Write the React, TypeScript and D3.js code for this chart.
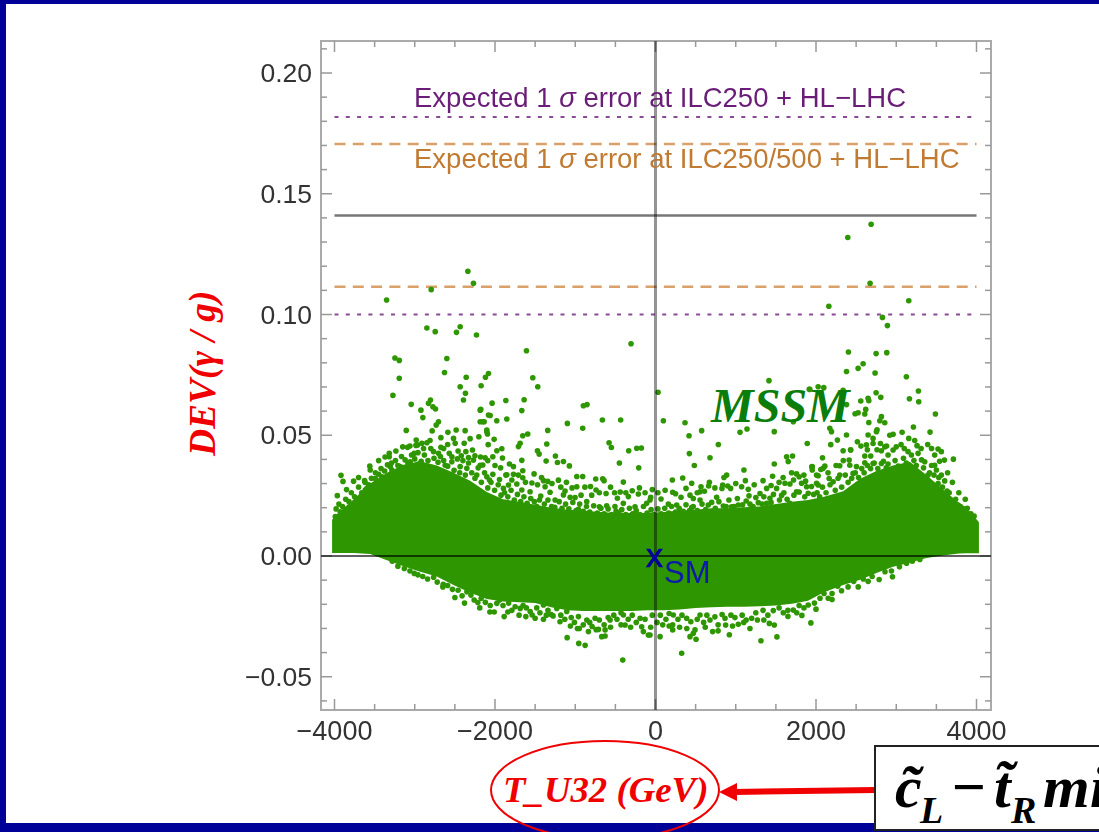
import React from "react";
import * as d3 from "d3";

const W = 1099, H = 832;

// dense core of the cloud: T value, upper and lower limit of the solid band
const coreT = [-4030,-3965,-3760,-3555,-3346,-3140,-2932,-2725,-2517,-2310,-2102,-1900,-1700,-1500,-1300,-1100,-900,-700,-500,-300,-100,100,300,500,700,900,1100,1300,1500,1700,1900,2100,2338,2550,2753,2960,3168,3376,3583,3780,3873,3956,4030];
const coreUpper = [.0150,.0175,.0235,.0300,.0345,.0378,.0392,.0375,.0345,.0312,.0265,.0235,.0225,.0212,.0200,.0192,.0188,.0182,.0178,.0178,.0178,.0182,.0188,.0192,.0198,.0198,.0202,.0205,.0215,.0225,.0232,.0245,.0268,.0320,.0352,.0375,.0390,.0335,.0275,.0220,.0200,.0170,.0140];
const coreLower = [.0012,.0012,.0012,.0008,-.0018,-.0042,-.0065,-.0085,-.0120,-.0152,-.0178,-.0188,-.0192,-.0195,-.0212,-.0225,-.0228,-.0228,-.0228,-.0228,-.0225,-.0225,-.0222,-.0215,-.0212,-.0210,-.0210,-.0208,-.0205,-.0198,-.0185,-.0150,-.0120,-.0098,-.0070,-.0045,-.0028,-.0008,.0002,.0010,.0011,.0011,.0011];

const pointsLeftHigh = [[-3351,.106],[-2795,.1103],[-2338,.1179],[-2268,.1129],[-2849,.0944],[-2745,.0929],[-2480,.0926],[-2434,.0949],[-2231,.0915],[-3247,.082],[-3193,.081],[-2600,.0818],[-2629,.076],[-3193,.0736],[-2359,.074],[-2119,.074],[-2081,.0756],[-2434,.0701],[-2173,.0705],[-2368,.0674],[-3272,.0665],[-2804,.0646],[-2393,.0646],[-3044,.0628],[-2829,.0632],[-2774,.0618],[-2741,.0609],[-2923,.0604],[-2899,.0573],[-2704,.0556],[-2733,.0542],[-3106,.052],[-2783,.0518],[-2587,.0512],[-2484,.0522],[-2372,.0519],[-2517,.0487],[-2982,.048],[-2849,.0469],[-2911,.0467],[-2674,.049],[-2674,.045],[-3090,.045],[-2965,.046],[-2496,.0467],[-2310,.0486],[-2384,.0467],[-2201,.0494],[-2102,.0515],[-2185,.0556],[-2135,.0556],[-2185,.0604],[-2081,.0584]];
const pointsLeftFringe = [[-3007,.0425],[-2766,.0432],[-2704,.0425],[-3318,.0425],[-3318,.0411],[-2537,.0411],[-2363,.0432],[-2281,.0439],[-2268,.0397],[-3305,.037],[-3555,.0356],[-3919,.0334],[-3894,.0309],[-3762,.031],[-3625,.0312],[-3965,.025],[-3409,.0328],[-3720,.0225],[-3617,.0273],[-3492,.0321],[-3181,.037],[-3057,.039],[-2953,.0381],[-2849,.0363],[-2621,.0376],[-2538,.039],[-2434,.037],[-2351,.0363],[-2185,.0376],[-2227,.0335],[-2102,.0328],[-2434,.0315],[-3928,.0183],[-3990,.0163],[-3596,.028],[-3285,.0356],[-3140,.0363]];
const pointsMidLeft = [[-305,.0879],[-1608,.085],[-1529,.0738],[-1467,.0701],[-2036,.0633],[-1865,.0644],[-1637,.0647],[-1666,.0602],[-2177,.0607],[-2060,.0582],[-1978,.056],[-1853,.0567],[-2152,.0556],[-899,.0622],[-853,.0627],[-662,.0563],[-434,.0563],[-1098,.0549],[-907,.0529],[-1343,.052],[-2102,.0522],[-2094,.0505],[-1592,.0505],[-1654,.0498],[-2011,.0483],[-1355,.0464],[-2085,.0461],[-1687,.0467],[-1708,.0453],[-1915,.0444],[-1977,.0436],[-579,.0469],[-550,.0449],[-334,.0436],[-234,.0446],[-176,.0447],[-1471,.0436],[-1450,.0422],[-1247,.0414],[-2123,.0407],[-2027,.0411],[-1907,.0406],[-1666,.0396],[-1363,.0393],[-1222,.0387],[-1147,.0391],[-1073,.0373],[-450,.0385],[-209,.0365],[-2152,.0377],[-1820,.0381],[-1770,.037],[-1654,.0353],[-2027,.0338],[-1853,.0336],[-1770,.0338],[-1654,.0324],[-1513,.034],[-981,.0329],[-907,.0329],[-745,.0319],[-658,.032],[-641,.0312],[-1210,.0314],[-1396,.0312],[-1343,.0309],[-401,.0306],[-2069,.0315],[-1944,.0317],[-981,.0287],[-1832,.0294],[-1728,.0298],[-1376,.0287],[-1127,.0269],[-741,.0273],[-616,.0259],[-928,.0252],[-1314,.0264],[-1666,.0273],[-1563,.0266],[-1895,.028],[-214,.0257],[-338,.0246],[-475,.0239],[-1064,.0243],[-1002,.0242],[-1147,.0253],[-795,.0252],[-857,.0225],[-1446,.0232],[-1251,.0232],[-68,.0232],[-110,.0218],[-401,.0218],[-255,.0204],[-608,.0208],[-699,.0204],[-492,.0186],[-961,.0193],[-1210,.0184],[-1396,.0177],[-774,.0163]];
const pointsMidRight = [[32,.0678],[98,.056],[368,.0552],[418,.0498],[575,.0519],[1053,.0512],[1140,.0526],[1480,.0515],[783,.0462],[1891,.0466],[422,.0424],[679,.0407],[484,.0375],[1634,.0411],[1708,.0414],[1654,.0391],[1480,.0381],[1102,.0356],[1953,.037],[1953,.0356],[887,.0335],[853,.0325],[1459,.033],[339,.0323],[210,.0315],[451,.0301],[671,.0305],[662,.029],[837,.0294],[828,.028],[936,.028],[1073,.0287],[567,.0287],[1156,.0276],[1696,.0345],[1758,.034],[1849,.0335],[2007,.0335],[1613,.0301],[1675,.0298],[1820,.0301],[1883,.0287],[2007,.0301],[214,.0264],[555,.0266],[1385,.028],[1509,.028],[1302,.0259],[1571,.0251],[430,.0252],[471,.0238],[555,.0232],[318,.0243],[69,.0236],[762,.0243],[1165,.0249],[1177,.0215],[-60,.0243],[1758,.0266],[1903,.026],[1426,.0239],[1385,.0218],[1281,.0221],[845,.0207],[658,.0211],[1032,.0211],[949,.0204],[264,.0211],[160,.0215],[451,.0201],[1675,.0218],[1924,.0211],[1414,.0726],[1916,.069],[1717,.0556]];
const pointsRight = [[2687,.1374],[2396,.1319],[2674,.1129],[3156,.1057],[2160,.1034],[2828,.0988],[2890,.0954],[2404,.0845],[2749,.0838],[2882,.0842],[2587,.0796],[2525,.0777],[2380,.0764],[2736,.0758],[3126,.0742],[2027,.0701],[2097,.0697],[1923,.069],[2338,.0686],[3276,.0683],[2749,.0676],[2807,.0657],[3164,.0651],[3280,.0639],[2649,.0653],[2658,.0643],[2558,.0642],[2380,.0627],[2620,.0607],[2608,.0588],[2487,.0589],[2525,.0593],[3488,.0588],[2815,.0577],[2857,.0552],[2795,.056],[2658,.0553],[2172,.0529],[2193,.0515],[2761,.0523],[2753,.0515],[3214,.0534],[3421,.0513],[3073,.0512],[2919,.05],[2961,.0504],[2380,.0501],[2649,.0501],[2711,.0487],[3156,.0487],[2267,.048],[2516,.0473],[2184,.0461],[2628,.046],[2711,.0466],[2803,.0466],[2857,.0452],[3060,.0461],[3392,.0462],[3259,.0457],[2338,.0436],[2433,.0439],[2815,.0436],[2961,.0439],[3521,.0443],[3562,.0432],[3479,.0418],[2898,.0418],[2608,.0414],[2682,.0414],[3147,.0432],[3272,.0425],[3189,.0418],[2081,.0407],[2413,.0397],[3600,.0397],[3712,.0401],[3355,.039],[2608,.0386],[2711,.0383],[2815,.0383],[2898,.0381],[3479,.0376],[2110,.0372],[1948,.0369],[2296,.0374],[2504,.037],[2421,.0376],[3500,.0356],[2089,.0363],[2462,.0342],[2296,.0335],[2027,.0332],[2164,.0321],[3562,.0335],[3396,.0335],[3376,.0317],[3604,.0311],[3521,.03],[2214,.0307],[2027,.0294],[1944,.0288],[2014,.0262],[2919,.0335],[2940,.0314],[3633,.0269],[3770,.0211]];
const pointsBelowLeft = [[-408,-.0431],[-1101,-.0338],[-956,-.0362],[-877,-.037],[-628,-.0331],[-670,-.0334],[-973,-.03],[-836,-.0313],[-711,-.0304],[-628,-.0306],[-1396,-.0262],[-1616,-.0251],[-1537,-.0244],[-1276,-.0248],[-1886,-.0251],[-2064,-.0232],[-2214,-.0193],[-2172,-.0175],[-2645,-.0117],[-2765,-.0088],[-3006,-.0072],[-2350,-.0148],[-1977,-.0196],[-1944,-.0182],[-1749,-.021],[-1686,-.0217],[-1562,-.023],[-1396,-.0203],[-1230,-.0217],[-1106,-.023],[-960,-.0251],[-856,-.0265],[-753,-.0258],[-566,-.0265],[-379,-.0286],[-172,-.0293],[-89,-.0327],[-151,-.0313],[-400,-.0244],[-192,-.0258]];
const pointsBelowRight = [[326,-.0403],[1314,-.0351],[1513,-.0335],[920,-.0326],[57,-.0334],[-68,-.0327],[430,-.0334],[492,-.0306],[505,-.0345],[471,-.032],[214,-.0306],[214,-.0285],[90,-.0285],[712,-.0313],[874,-.0286],[1032,-.0283],[1177,-.03],[1418,-.0279],[1480,-.0286],[1936,-.0277],[1824,-.0246],[1198,-.0258],[2526,-.0128],[2650,-.0105],[2953,-.0086],[2787,-.0097],[3128,-.003],[3294,-.0014],[2152,-.0175],[1903,-.0203],[2318,-.0144],[1468,-.0226],[1592,-.0235],[1717,-.0224],[555,-.0244],[679,-.0265],[866,-.0258],[388,-.0258],[222,-.0244]];
const fringeUpperLeft = [[-3980,.0195],[-3945,.0215],[-3900,.0205],[-3860,.0235],[-3820,.0225],[-3790,.0262],[-3750,.0245],[-3700,.0285],[-3660,.0262],[-3620,.0305],[-3575,.0295],[-3540,.0322],[-3490,.0345],[-3450,.0338],[-3420,.0362],[-3375,.0352],[-3340,.0378],[-3290,.0385],[-3240,.0395],[-3210,.0375],[-3165,.0412],[-3120,.0398],[-3085,.0385],[-3040,.0418],[-3000,.0402],[-2960,.0428],[-2920,.0392],[-2880,.0418],[-2835,.0395],[-2800,.0445],[-2760,.0405],[-2710,.0388],[-2680,.0412],[-2640,.0395],[-2590,.0372],[-2570,.0425],[-2510,.0355],[-2470,.0402],[-2440,.0345],[-2400,.0395],[-2370,.0335],[-2330,.0385],[-2290,.0345],[-2250,.0322],[-2210,.0365],[-2170,.0305],[-2130,.0345],[-2090,.0282],[-2050,.0305],[-2005,.0272],[-1960,.0295],[-1925,.0252],[-1880,.0262],[-1840,.0245],[-1800,.0272],[-1760,.0232],[-1720,.0255],[-1680,.0225],[-1640,.0245],[-1600,.0218],[-1555,.0238],[-1510,.0225],[-1480,.0205],[-1430,.0248],[-1385,.0215],[-1340,.0232],[-1295,.0205],[-1255,.0202],[-1200,.0225],[-1165,.0198],[-1120,.0215],[-1080,.0195],[-1030,.0222],[-990,.0188],[-945,.0215],[-900,.0185],[-860,.0205],[-820,.0182],[-770,.0208],[-725,.0178],[-680,.0198],[-640,.0175],[-590,.0195],[-545,.0172],[-505,.0205],[-460,.0178],[-420,.0192],[-370,.0172],[-325,.0198],[-285,.0175],[-240,.0188],[-195,.0172],[-150,.0205],[-105,.0178],[-55,.0192],[-20,.0172]];
const fringeUpperRight = [[30,.0195],[70,.0175],[115,.0198],[165,.0178],[200,.0205],[250,.0182],[295,.0198],[345,.0185],[380,.0212],[425,.0188],[470,.0205],[520,.0188],[580,.0215],[625,.0192],[700,.0222],[745,.0198],[790,.0225],[880,.0205],[915,.0232],[980,.0205],[1020,.0238],[1085,.0212],[1130,.0228],[1215,.0205],[1250,.0242],[1330,.0215],[1350,.0245],[1440,.0222],[1470,.0255],[1545,.0232],[1600,.0262],[1640,.0235],[1725,.0252],[1790,.0265],[1860,.0245],[1970,.0255],[2045,.0245],[2080,.0285],[2125,.0262],[2175,.0295],[2240,.0272],[2275,.0322],[2320,.0285],[2365,.0335],[2400,.0305],[2445,.0322],[2490,.0345],[2530,.0325],[2570,.0362],[2600,.0345],[2640,.0375],[2680,.0362],[2725,.0385],[2770,.0362],[2840,.0392],[2875,.0365],[2985,.0395],[3025,.0372],[3090,.0405],[3125,.0385],[3220,.0395],[3250,.0375],[3315,.0398],[3340,.0365],[3415,.0345],[3440,.0375],[3470,.0335],[3530,.0325],[3575,.0285],[3620,.0255],[3660,.0262],[3700,.0225],[3740,.0235],[3800,.0205],[3840,.0195],[3885,.0198],[3930,.0175],[3970,.0165]];
const fringeLower = [[-3280,-.0022],[-3210,-.0042],[-3130,-.0052],[-3060,-.0062],[-2960,-.0078],[-2900,-.0085],[-2840,-.0095],[-2720,-.0108],[-2650,-.0128],[-2590,-.0122],[-2530,-.0138],[-2460,-.0142],[-2410,-.0165],[-2300,-.0162],[-2260,-.0182],[-2120,-.0192],[-2060,-.0205],[-1900,-.0205],[-1830,-.0195],[-1790,-.0225],[-1650,-.0205],[-1610,-.0215],[-1480,-.0215],[-1440,-.0235],[-1340,-.0225],[-1300,-.0242],[-1180,-.0245],[-1130,-.0262],[-1050,-.0255],[-1010,-.0275],[-900,-.0285],[-820,-.0275],[-790,-.0292],[-700,-.0265],[-640,-.0285],[-590,-.0255],[-520,-.0245],[-480,-.0262],[-430,-.0235],[-340,-.0262],[-290,-.0245],[-240,-.0275],[-130,-.0262],[-40,-.0245],[20,-.0275],[60,-.0245],[130,-.0262],[170,-.0238],[280,-.0262],[330,-.0245],[440,-.0272],[520,-.0262],[600,-.0275],[640,-.0245],[740,-.0252],[780,-.0285],[830,-.0242],[940,-.0245],[990,-.0255],[1080,-.0245],[1130,-.0265],[1250,-.0235],[1340,-.0225],[1400,-.0245],[1540,-.0215],[1650,-.0225],[1790,-.0205],[1850,-.0215],[1980,-.0195],[2050,-.0175],[2100,-.0155],[2200,-.0155],[2270,-.0125],[2400,-.0128],[2470,-.0105],[2590,-.0095],[2700,-.0085],[2860,-.0065],[2940,-.0062],[3040,-.0045],[3200,-.0022]];
const fringeOuterUpper = [[-3850,.0275],[-3700,.0325],[-3560,.0372],[-3450,.0395],[-3370,.041],[-3235,.0435],[-3150,.0452],[-3060,.0455],[-2985,.0458],[-2890,.0445],[-2810,.0478],[-2640,.0445],[-2590,.0462],[-2460,.0435],[-2420,.0415],[-2330,.0408],[-2250,.0415],[-2180,.041],[-2090,.0395],[-2000,.0375],[-1930,.0365],[-1865,.0335],[-1790,.0315],[-1710,.0335],[-1620,.0305],[-1540,.0302],[-1470,.0295],[-1420,.0325],[-1290,.03],[-1180,.0285],[-1110,.0305],[-1040,.0282],[-880,.0285],[-810,.0288],[-700,.0262],[-560,.0285],[-510,.0262],[-440,.0265],[-370,.0262],[-290,.027],[-200,.0282],[-130,.0262],[-40,.0275],[30,.0262],[120,.0272],[250,.0258],[380,.028],[520,.0262],[610,.0268],[740,.0282],[900,.029],[1000,.03],[1120,.0312],[1230,.0295],[1340,.0312],[1440,.0292],[1540,.0305],[1590,.0325],[1720,.0315],[1790,.0328],[1870,.031],[2060,.0358],[2150,.0345],[2250,.0375],[2340,.0395],[2430,.044],[2560,.0455],[2640,.044],[2760,.044],[2880,.0455],[3000,.0452],[3100,.0445],[3230,.0478],[3310,.0445],[3440,.0445],[3540,.0392],[3640,.0345],[3700,.0305],[3780,.0262],[3860,.0235]];
const fringeOuterLower = [[-2500,-.0172],[-2380,-.0195],[-2190,-.0215],[-2010,-.0232],[-1840,-.0232],[-1700,-.0245],[-1500,-.0258],[-1360,-.0245],[-1190,-.0272],[-1060,-.029],[-950,-.03],[-740,-.0305],[-560,-.0295],[-430,-.0285],[-310,-.0295],[-60,-.0295],[170,-.029],[300,-.0295],[390,-.03],[620,-.0295],[780,-.031],[960,-.029],[1100,-.0275],[1270,-.0265],[1350,-.0265],[1650,-.025],[1760,-.0235],[2000,-.022],[2200,-.018]];
const cloud = [...pointsLeftHigh, ...pointsLeftFringe, ...pointsMidLeft, ...pointsMidRight, ...pointsRight, ...pointsBelowLeft, ...pointsBelowRight, ...fringeUpperLeft, ...fringeUpperRight, ...fringeLower, ...fringeOuterUpper, ...fringeOuterLower];

const xTickLabels = [-4000, -2000, 0, 2000, 4000];
const yTickLabels = [-0.05, 0, 0.05, 0.1, 0.15, 0.2];
const refLines = [
  { v: 0.1818, color: "#8a4a96", dash: "4 7.3", w: 2 },
  { v: 0.1706, color: "#d9a06a", dash: "11 7.3", w: 2.4 },
  { v: 0.141, color: "#777777", dash: "", w: 2.5 },
  { v: 0.1115, color: "#d9a06a", dash: "11 7.3", w: 2.4 },
  { v: 0.1, color: "#8a4a96", dash: "4 7.3", w: 2 },
];

const x = d3.scaleLinear().domain([-4000, 4000]).range([334.5, 976.5]);
const y = d3.scaleLinear().domain([0, 0.2]).range([556, 73]);
const L = 321, R = 991, T = 41, B = 710;
const fmtMinus = (s: string) => s.replace("-", "\u2212");

export default function App() {
  const area = d3.area<number>()
    .x((_, i) => x(coreT[i]))
    .y0((_, i) => y(coreLower[i]))
    .y1((_, i) => y(coreUpper[i]));
  const xMinor = d3.range(-4000, 4001, 500);
  const yMinor = d3.range(-6, 22, 1).map((d) => d / 100);
  const sans = "Liberation Sans, Arial, sans-serif";
  const serif = "Liberation Serif, Times New Roman, serif";
  return (
    <svg width={W} height={H} style={{ position: "absolute", left: 0, top: 0, background: "#fff" }}>
      <defs>
        <filter id="soft" x="0" y="0" width={W} height={H} filterUnits="userSpaceOnUse">
          <feGaussianBlur stdDeviation="0.6" />
        </filter>
      </defs>
      <g filter="url(#soft)">
        <rect x={L} y={T} width={R - L} height={B - T} fill="#fff" stroke="#aaaaaa" strokeWidth={2} />
        {xMinor.map((t) => {
          const major = t % 2000 === 0;
          const l = major ? 11 : 6;
          return (
            <g key={t} stroke="#999999" strokeWidth={1.5}>
              <line x1={x(t)} x2={x(t)} y1={B} y2={B - l} />
              <line x1={x(t)} x2={x(t)} y1={T} y2={T + l} />
            </g>
          );
        })}
        {yMinor.map((v) => {
          const major = Math.round(v * 100) % 5 === 0;
          const l = major ? 11 : 6;
          return (
            <g key={v} stroke="#999999" strokeWidth={1.5}>
              <line x1={L} x2={L + l} y1={y(v)} y2={y(v)} />
              <line x1={R} x2={R - l} y1={y(v)} y2={y(v)} />
            </g>
          );
        })}
        {refLines.map((r) => (
          <line key={r.v} x1={x(-4000)} x2={x(4000)} y1={y(r.v)} y2={y(r.v)} stroke={r.color} strokeWidth={r.w} strokeDasharray={r.dash} />
        ))}
        <path d={area(coreT) || ""} fill="#2f9600" />
        {cloud.map((p, i) => (
          <circle key={i} cx={x(p[0])} cy={y(p[1])} r={2.8} fill="#2f9600" />
        ))}
        <line x1={L} x2={R} y1={y(0)} y2={y(0)} stroke="#000" strokeOpacity={0.62} strokeWidth={2} />
        <line x1={x(0)} x2={x(0)} y1={T} y2={B} stroke="#000" strokeOpacity={0.42} strokeWidth={3} />
        {xTickLabels.map((t) => (
          <text key={t} x={x(t)} y={740} textAnchor="middle" fontFamily={sans} fontSize={27} fill="#333">{fmtMinus(String(t))}</text>
        ))}
        {yTickLabels.map((v) => (
          <text key={v} x={312} y={y(v) + 9} textAnchor="end" fontFamily={sans} fontSize={26.5} fill="#333">{fmtMinus(v.toFixed(2))}</text>
        ))}
        <text x={414} y={107} fontFamily={sans} fontSize={27.5} fill="#6a1f78">
          Expected 1 <tspan fontStyle="italic">σ</tspan> error at ILC250 + HL−LHC
        </text>
        <text x={414} y={168} fontFamily={sans} fontSize={27.5} fill="#c07a30">
          Expected 1 <tspan fontStyle="italic">σ</tspan> error at ILC250/500 + HL−LHC
        </text>
        <text x={646} y={567} fontFamily={sans} fontSize={34} fill="#0000a0" stroke="#0000a0" strokeWidth={0.7}>x</text>
        <text x={664} y={583} fontFamily={sans} fontSize={31} fill="#0a1aa8">SM</text>
      </g>
      <text x={711} y={422} fontFamily={serif} fontWeight="bold" fontStyle="italic" fontSize={48} fill="#0a7d0a">MSSM</text>
      <text transform="translate(215,456) rotate(-90)" fontFamily={serif} fontWeight="bold" fontStyle="italic" fontSize={37.5} fill="#f00000">
        DEV(γ / g)
      </text>
      <rect x={0} y={0} width={W} height={4} fill="#000099" />
      <rect x={0} y={0} width={6} height={H} fill="#000099" />
      <rect x={0} y={823} width={W} height={9} fill="#000099" />
      <ellipse cx={605} cy={790} rx={114} ry={49} fill="none" stroke="#f00000" strokeWidth={2} />
      <text x={503} y={802} fontFamily={serif} fontWeight="bold" fontStyle="italic" fontSize={36.8} fill="#f00000">T_U32 (GeV)</text>
      <line x1={876} y1={790} x2={734} y2={792} stroke="#f00000" strokeWidth={6} />
      <path d="M719,792 L737,783 L737,801 Z" fill="#f00000" />
      <rect x={875} y={746} width={240} height={84} fill="#fff" stroke="#222" strokeWidth={2} />
      <text fontFamily={serif} fontWeight="bold" fontStyle="italic" fill="#000" fontSize={60}>
        <tspan x={895} y={807}>c&#771;</tspan>
        <tspan x={920} y={823} fontSize={38}>L</tspan>
        <tspan x={950} y={807}>−</tspan>
        <tspan x={994} y={807}>t&#771;</tspan>
        <tspan x={1011} y={823} fontSize={38}>R</tspan>
        <tspan x={1043} y={807}>mi</tspan>
      </text>
    </svg>
  );
}
